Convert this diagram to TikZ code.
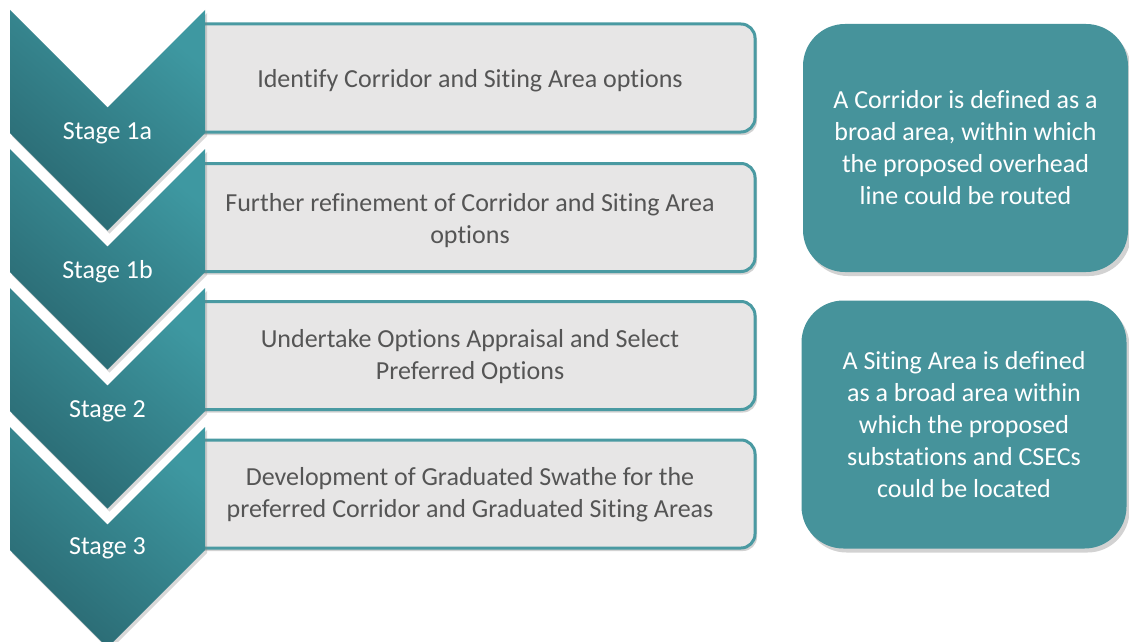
\documentclass[tikz,border=0pt]{standalone}
\usepackage{fontspec}
\setmainfont{Carlito}[Ligatures={NoCommon}]
\usetikzlibrary{shadows}
\definecolor{tealdark}{HTML}{2A6972}
\definecolor{teallight}{HTML}{3E98A1}
\definecolor{tealbox}{HTML}{46939B}
\definecolor{tealline}{HTML}{4A9AA2}
\definecolor{grayfill}{HTML}{E7E6E6}
\definecolor{graytext}{HTML}{555555}
\begin{document}
\begin{tikzpicture}[x=1pt,y=-1pt,
  stepbox/.style={draw=tealline, line width=3pt, fill=grayfill, rounded corners=14pt,
    minimum width=564pt, minimum height=108pt, inner sep=0pt,
    drop shadow={opacity=0.35, shadow xshift=2pt, shadow yshift=-3pt}},
  steptext/.style={text=graytext, align=center, inner sep=0pt,
    font=\fontsize{26}{32}\selectfont},
  chevstyle/.style={top color=teallight, bottom color=tealdark, shading angle=-40,
    drop shadow={opacity=0.3, shadow xshift=2pt, shadow yshift=-3pt}},
  stagelbl/.style={anchor=base, text=white, font=\fontsize{26}{32}\selectfont, inner sep=0pt},
  notebox/.style={fill=tealbox, rounded corners=42pt, minimum width=325pt, minimum height=248pt,
    inner sep=0pt, text=white, align=center, font=\fontsize{26}{32}\selectfont,
    drop shadow={opacity=0.35, shadow xshift=3pt, shadow yshift=-4pt}}]
\useasboundingbox (0,0) rectangle (1129,642);
\fill[white] (0,0) rectangle (1129,642);

% step boxes (left part hidden under the chevrons)
\node[stepbox] (b1) at (473,78) {};
\node[stepbox] (b2) at (473,217.5) {};
\node[stepbox] (b3) at (473,355.5) {};
\node[stepbox] (b4) at (473,494) {};
\node[steptext] (t1) at ([xshift=-3pt,yshift=-2.5pt]b1.center) {Identify Corridor and Siting Area options};
\node[steptext] (t2) at ([xshift=-3pt,yshift=-3pt]b2.center) {Further refinement of Corridor and Siting Area\\options};
\node[steptext] (t3) at ([xshift=-3pt,yshift=-1pt]b3.center) {Undertake Options Appraisal and Select\\Preferred Options};
\node[steptext] (t4) at ([xshift=-3pt,yshift=-1pt]b4.center) {Development of Graduated Swathe for the\\preferred Corridor and Graduated Siting Areas};

% chevrons
\foreach \t in {427,288,149,10}{
  \path[chevstyle] (10,\t) -- (107.5,{\t+97.5}) -- (205,\t) -- (205,{\t+123})
     -- (107.5,{\t+220.5}) -- (10,{\t+123}) -- cycle;
}
\node[stagelbl] (s1) at (107.5,139) {Stage 1a};
\node[stagelbl] (s2) at (107.5,278.5) {Stage 1b};
\node[stagelbl] (s3) at (107.5,417) {Stage 2};
\node[stagelbl] (s4) at (107.5,554) {Stage 3};

% notes
\node[notebox] (n1) at (965.5,148) {A Corridor is defined as a\\broad area, within which\\the proposed overhead\\line could be routed};
\node[notebox] (n2) at (964,424.5) {A Siting Area is defined\\as a broad area within\\which the proposed\\substations and CSECs\\could be located};
\end{tikzpicture}
\end{document}
